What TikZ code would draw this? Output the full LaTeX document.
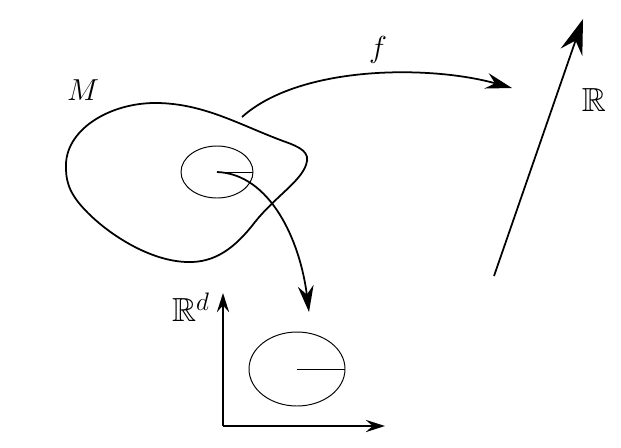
\documentclass[tikz,border=0pt]{standalone}
\usepackage{amssymb}
\usetikzlibrary{arrows.meta}
\begin{document}
\begin{tikzpicture}[x=0.02cm,y=-0.02cm,
  thick line/.style={line width=1pt},
  thin line/.style={line width=0.55pt},
  big arrow/.style={thick line,-{Stealth[length=15pt,width=9pt,inset=5pt]}},
  lbl/.style={font=\fontsize{19}{23}\selectfont,inner sep=0pt}]
\useasboundingbox (0,0) rectangle (621,447);
% manifold M
\draw[thick line] (66,168) .. controls (64,130) and (110,102) .. (158,103)
  .. controls (205,104) and (240,125) .. (283,141)
  .. controls (300,147) and (311,152) .. (306,165)
  .. controls (300,182) and (275,197) .. (255,222)
  .. controls (235,248) and (215,263) .. (187,262)
  .. controls (150,261) and (110,235) .. (88,213)
  .. controls (72,197) and (66,185) .. (66,168) -- cycle;
\node[lbl] (M) at (83,90) {$M$};
% chart domain
\draw[thin line] (217,172) ellipse [x radius=36,y radius=26];
\coordinate (c1) at (217,172);
\coordinate (r1) at (253,172);
\draw[thin line] (c1) -- (r1);
% chart image
\coordinate (c2) at (297,369);
\coordinate (r2) at (345,369);
\draw[thin line] (c2) ellipse [x radius=48,y radius=37];
\draw[thin line] (c2) -- (r2);
% chart arrow
\coordinate (t1) at (309,312);
\draw[big arrow] (c1) .. controls (270,174) and (300,240) .. (t1);
% axes of R^d
\coordinate (o) at (223,426);
\coordinate (ya) at (223,293);
\coordinate (xa) at (385,426);
\draw[thick line,-{Stealth[length=11pt,width=7pt,inset=4pt]}] (o) -- (ya);
\draw[thick line,-{Stealth[length=11pt,width=7pt,inset=4pt]}] (o) -- (xa);
\node[lbl] (Rd) at (191,307) {$\mathbb{R}^d$};
% f arrow
\coordinate (fs) at (242,117);
\coordinate (ft) at (512,88);
\draw[big arrow] (fs) .. controls (300,65) and (430,65) .. (ft);
\node[lbl] (f) at (378,50) {$f$};
% real line
\coordinate (rs) at (494,276);
\coordinate (rt) at (583,19);
\draw[thick line,-{Stealth[length=20pt,width=13pt,inset=7pt]}] (rs) -- (rt);
\node[lbl] (R) at (594,100) {$\mathbb{R}$};
\end{tikzpicture}
\end{document}
